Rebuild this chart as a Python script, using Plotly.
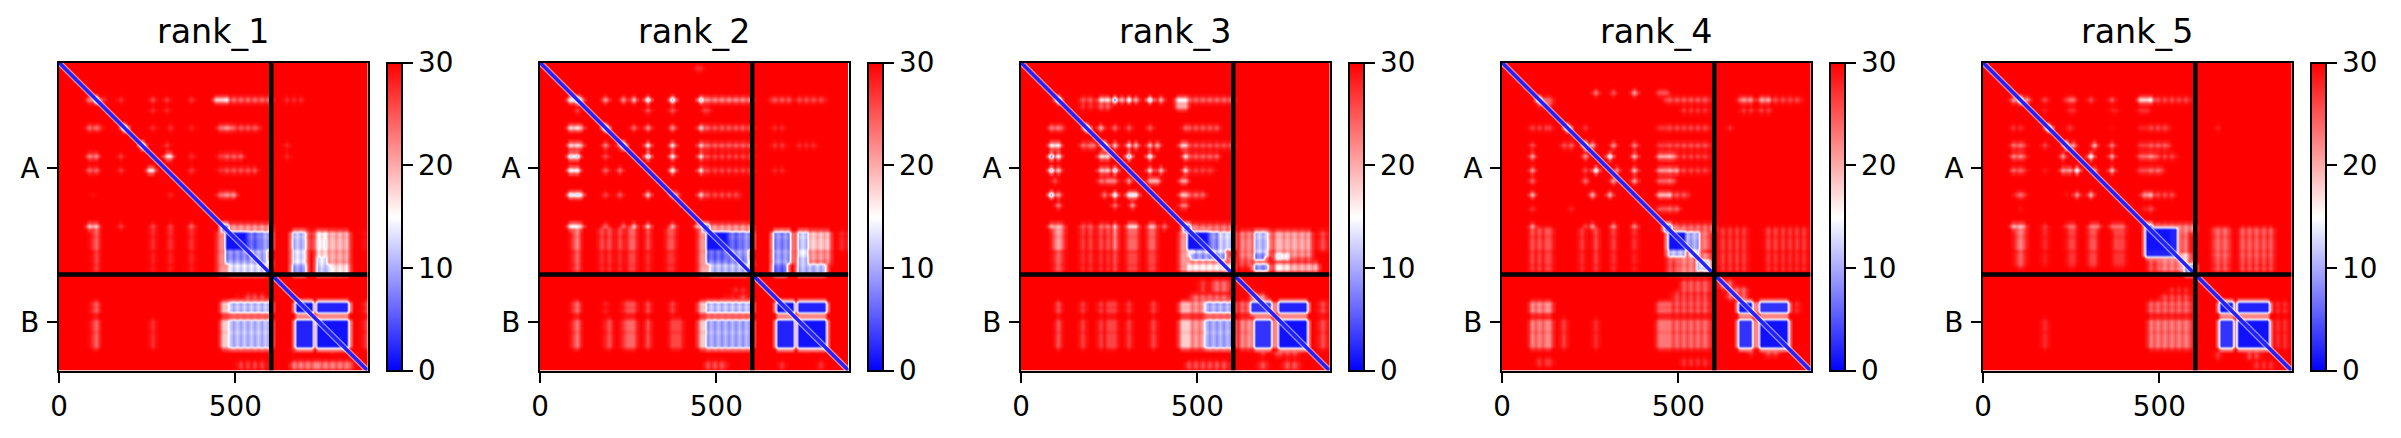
import plotly.graph_objects as go

TITLES = ["rank_1", "rank_2", "rank_3", "rank_4", "rank_5"]
CHAIN_LABELS = ["A", "B"]
CHAIN_EDGES = [0, 602, 875]
X_TICKS = [0, 500]
CBAR_TICKS = [0, 10, 20, 30]
CELL = 10

# each entry: row start, row end, [(column start, column end, predicted error)]
BULGES = [(100, 100, [(100, 100, 1)]), (180, 190, [(180, 190, 1)]), (235, 235, [(235, 235, 1)]), (465, 478, [(465, 478, 2)])]

# residues where the error rises a little inside a patch (the streaks of the picture)
STREAK_COLS = [90, 110, 180, 230, 480, 500, 520, 540, 560, 580, 630, 650, 670, 690, 710, 740, 760, 780, 800, 820, 840, 860]
STREAK_ROWS = [490, 530, 570, 650, 690, 760]
# how much fainter the spots inside chain A are in each rank
SPOT_LIFT = [3, 0, 0, 2, 3]

RANK_1 = [
 (100,100,[(85,110,19),(110,130,24),(170,185,24),(263,263,22),(304,304,23),(372,372,24),(445,480,14),(480,600,23),(640,690,27)]),
 (130,130,[(263,263,24),(304,304,24)]),
 (181,181,[(85,115,20),(263,263,24),(310,320,24),(372,372,25),(455,490,20),(490,570,24)]),
 (235,235,[(300,310,23),(645,660,27)]),
 (265,265,[(85,105,18),(170,170,23),(300,315,12),(372,372,24),(455,520,23),(645,660,27)]),
 (306,306,[(85,110,20),(170,175,23),(255,265,12),(372,372,23),(455,560,24)]),
 (372,372,[(95,95,23),(310,310,25),(450,500,20)]),
 (462,462,[(85,110,14),(170,170,23),(263,263,22),(310,310,23),(372,372,20)]),
 (470,530,[(90,110,24),(263,263,27),(310,310,27),(372,372,27)]),
 (530,590,[(90,110,26),(263,263,28),(310,310,28),(372,372,28)]),
 (465,478,[(470,600,20)]),
 (480,530,[(475,530,1),(530,565,4),(565,595,7),(665,700,9),(700,730,24),(730,760,14),(760,815,18),(860,870,26)]),
 (530,555,[(470,540,6),(540,590,8),(665,700,11),(730,760,16),(760,815,19)]),
 (555,565,[(475,590,8),(665,700,12),(735,760,12),(760,815,20)]),
 (565,578,[(460,480,22),(480,600,19),(665,700,24),(730,815,25)]),
 (578,592,[(465,480,21),(480,590,11),(665,700,7),(735,770,10),(770,815,15)]),
 (480,592,[(455,472,22)]),
 (680,708,[(90,105,24),(465,480,18),(480,595,9),(670,716,1),(732,812,2),(860,872,25)]),
 (660,680,[(500,510,26),(530,560,25),(570,580,25)]),
 (736,802,[(90,105,24),(263,263,27),(465,480,18),(480,595,9),(670,716,2),(732,812,1),(860,872,25)]),
 (720,730,[(735,760,27)]),(810,820,[(665,680,27),(760,790,26)]),
 (855,868,[(500,590,26),(665,830,22)]),
]

RANK_2 = [
 (10,10,[(445,455,27)]),
 (100,100,[(85,120,13),(185,185,17),(230,230,18),(262,262,17),(308,308,9),(372,372,9),(459,459,8),(465,596,21),(658,710,24),(738,805,25)]),
 (130,130,[(100,110,26),(305,305,24),(372,372,24),(465,480,26)]),
 (181,181,[(85,120,16),(262,262,23),(308,308,20),(372,372,21),(459,459,16),(465,596,24),(663,690,27)]),
 (235,235,[(85,120,15),(180,180,18),(222,222,20),(308,308,12),(372,372,14),(459,459,15),(465,596,23),(658,700,26),(738,790,27)]),
 (265,265,[(85,110,10),(180,180,22),(308,308,7),(372,372,13),(459,459,13),(465,596,25)]),
 (306,306,[(85,110,12),(180,180,20),(222,222,22),(372,372,12),(459,459,13),(465,596,25),(663,690,27)]),
 (372,372,[(85,115,12),(180,180,23),(222,222,24),(308,308,16),(372,385,22),(459,459,16),(465,570,25)]),
 (462,462,[(85,115,14),(99,99,9),(185,185,20),(230,230,20),(262,262,16),(308,308,15),(372,372,18),(440,462,18)]),
 (470,530,[(90,110,22),(175,195,25),(225,235,25),(255,265,24),(305,305,25),(365,372,25)]),
 (530,590,[(90,110,24),(175,195,27),(225,235,27),(255,265,26),(305,305,27),(365,372,27)]),
 (465,478,[(470,600,20)]),
 (480,530,[(475,530,1),(530,565,4),(565,595,6),(663,705,6),(738,753,10),(753,815,17),(852,871,27)]),
 (530,555,[(470,530,4),(530,590,7),(663,705,7),(738,753,12),(753,815,20)]),
 (555,565,[(470,590,6),(663,705,8),(738,753,10),(753,815,22)]),
 (565,578,[(460,480,24),(480,595,20),(663,700,21),(738,815,25)]),
 (578,592,[(465,480,20),(480,590,9),(663,700,4),(739,810,9)]),
 (480,592,[(450,472,21)]),
 (640,650,[(540,575,27)]),
 (660,680,[(520,530,26),(540,550,25),(565,585,25)]),
 (680,708,[(90,110,23),(185,185,25),(230,265,25),(308,308,25),(372,372,26),(450,478,18),(478,595,9),(677,720,1),(734,810,2)]),
 (736,802,[(90,110,23),(185,195,25),(230,265,24),(308,308,25),(372,400,26),(450,478,18),(478,595,8),(677,720,2),(734,810,1)]),
 (810,820,[(750,770,27)]),
 (850,862,[(470,530,25),(680,700,27),(790,810,27)]),
]

RANK_3 = [
 (100,100,[(170,196,24),(220,248,15),(262,262,4),(281,281,18),(307,307,10),(324,324,18),(369,369,8),(390,390,18),(442,470,15),(470,600,23)]),
 (115,125,[(170,196,27),(220,248,24),(440,470,20)]),
 (181,181,[(87,115,22),(225,225,18),(262,262,23),(307,307,24),(366,366,24),(461,555,24)]),
 (233,233,[(87,110,13),(172,205,22),(262,262,15),(307,307,13),(320,320,16),(369,369,16),(385,385,18),(452,470,16),(470,600,24)]),
 (265,265,[(87,87,5),(101,101,12),(225,243,14),(307,307,5),(369,369,8),(461,461,14),(470,560,23)]),
 (308,308,[(89,89,8),(101,101,16),(225,243,16),(262,262,7),(369,369,13),(390,390,16),(461,461,15),(470,550,25)]),
 (335,335,[(90,100,22),(225,262,22),(307,307,20),(369,390,19),(455,470,20)]),
 (371,371,[(89,89,8),(101,101,20),(234,234,20),(262,262,10),(307,324,13),(455,470,18),(470,520,23)]),
 (400,400,[(100,100,22),(319,319,20),(262,262,22),(455,470,22)]),
 (462,462,[(85,115,18),(177,196,24),(225,243,22),(262,262,16),(307,324,16),(366,380,18),(400,400,23)]),
 (470,530,[(90,115,20),(175,195,26),(225,245,25),(262,262,21),(305,325,24),(365,380,24)]),
 (530,590,[(90,115,24),(175,195,27),(225,245,27),(262,262,25),(305,325,26),(365,380,26)]),
 (465,478,[(470,600,22)]),
 (480,530,[(475,530,1),(530,560,6),(560,595,10),(627,655,21),(660,693,9),(693,722,22),(726,811,19),(840,868,25)]),
 (530,542,[(470,490,15),(490,575,11),(627,655,21),(660,693,10),(726,811,20)]),
 (542,552,[(480,575,7),(627,655,23),(660,690,6),(726,760,14),(760,811,24)]),
 (552,575,[(470,600,22),(627,700,24),(726,811,26)]),
 (575,590,[(470,600,14),(660,700,6),(726,760,15),(760,840,18)]),
 (480,590,[(450,472,21)]),
 (620,650,[(505,530,26),(540,585,23)]),
 (660,680,[(480,590,23),(650,690,20)]),
 (680,708,[(100,110,25),(175,175,26),(225,265,26),(307,307,26),(372,372,26),(450,478,19),(478,520,20),(520,595,8),(627,655,23),(655,707,3),(731,806,2),(840,868,25)]),
 (736,802,[(100,110,25),(175,175,26),(225,265,26),(307,307,26),(372,372,26),(450,478,18),(478,520,20),(525,595,8),(627,655,21),(660,707,3),(731,806,1),(840,868,25)]),
 (820,830,[(670,690,26),(720,790,25)]),
 (850,865,[(470,590,25),(670,700,25),(745,783,25)]),
]

RANK_4 = [
 (80,80,[(263,263,20),(310,310,23),(372,372,18),(448,466,23)]),
 (100,120,[(100,135,22)]),
 (105,105,[(466,590,24),(675,703,20),(737,760,19),(770,845,25)]),
 (130,130,[(510,590,26),(675,703,26),(737,760,26)]),
 (180,180,[(88,135,24),(230,230,22),(448,590,25),(630,645,27)]),
 (232,232,[(88,88,23),(173,200,22),(258,258,16),(315,315,18),(372,372,19),(448,590,24)]),
 (265,265,[(88,88,17),(230,230,15),(306,306,6),(372,372,15),(448,486,17),(486,590,25)]),
 (306,306,[(88,88,18),(230,230,20),(261,261,6),(320,320,18),(372,372,15),(448,500,18),(500,590,25)]),
 (330,330,[(88,88,22),(230,230,18),(315,315,18),(372,372,18),(448,490,22)]),
 (372,372,[(88,88,17),(258,258,17),(306,306,16),(448,476,17),(476,530,24)]),
 (410,410,[(88,88,25),(190,190,26),(448,500,23)]),
 (460,460,[(88,88,18),(230,230,21),(258,258,18),(315,315,18),(372,372,19)]),
 (470,530,[(85,135,25),(225,235,26),(260,260,25),(310,320,26),(372,372,27),(628,694,26),(741,865,26)]),
 (530,590,[(85,135,26),(225,235,27),(260,260,26),(310,320,27),(372,372,28),(628,694,26),(741,865,27)]),
 (466,480,[(470,600,23)]),
 (485,530,[(470,520,1),(520,552,8),(557,590,22)]),
 (535,546,[(470,520,9),(530,555,12)]),
 (546,600,[(470,500,24),(500,590,21)]),
 (565,590,[(555,590,10)]),
 (627,646,[(514,590,24)]),
 (620,640,[(620,650,23)]),(640,665,[(640,685,23)]),
 (655,674,[(480,590,25)]),
 (680,702,[(88,135,21),(448,590,24),(675,708,1),(732,808,3),(820,850,27)]),
 (736,802,[(88,135,22),(173,173,26),(260,260,27),(448,590,23),(675,708,3),(730,808,1)]),
 (840,860,[(100,135,27),(500,590,27)]),
 (815,830,[(700,720,27),(745,775,25)]),
]

RANK_5 = [
 (100,100,[(80,128,18),(175,175,22),(232,260,20),(308,308,22),(369,369,21),(445,473,14),(473,590,25)]),
 (130,130,[(175,175,25),(232,260,24),(369,380,25),(445,470,24)]),
 (181,181,[(80,118,24),(232,246,23),(369,369,26),(445,530,25),(660,670,28)]),
 (235,235,[(80,118,19),(175,175,22),(255,255,16),(312,312,15),(369,369,18),(445,530,23)]),
 (265,265,[(80,118,18),(227,227,16),(305,305,6),(369,369,15),(445,490,20),(490,550,25)]),
 (306,306,[(85,118,20),(175,175,25),(227,246,16),(262,262,6),(317,317,18),(369,369,13),(445,510,22)]),
 (372,372,[(90,118,20),(232,232,23),(262,262,17),(308,308,15),(455,475,18),(475,540,25)]),
 (410,410,[(95,118,26),(455,480,25)]),
 (462,462,[(85,118,15),(175,175,23),(232,260,20),(308,325,19),(369,400,20)]),
 (470,530,[(90,115,22),(175,175,27),(235,260,26),(305,320,25),(372,400,26)]),
 (530,575,[(90,115,24),(175,175,28),(235,260,27),(305,320,26),(372,400,27)]),
 (466,478,[(470,600,21)]),
 (475,546,[(469,549,2),(566,580,22),(658,700,23),(734,814,24)]),
 (475,530,[(469,530,1)]),
 (546,590,[(470,500,24),(500,590,21),(566,580,16),(658,700,24),(734,814,25)]),
 (575,592,[(570,595,7)]),
 (640,660,[(530,590,27)]),
 (660,674,[(500,590,25)]),
 (680,702,[(473,587,23),(677,710,1),(729,805,2),(825,860,27)]),
 (736,802,[(90,90,27),(175,175,27),(473,587,22),(677,710,3),(729,805,1),(830,860,27)]),
 (820,832,[(665,680,27),(745,785,26)]),
 (850,870,[(760,830,27)]),
]
PANELS = [RANK_1, RANK_2, RANK_3, RANK_4, RANK_5]


def paint(z, blocks, n):
    for r0, r1, spans in blocks:
        for r in range(r0 // CELL, max(r0 // CELL + 1, (r1 - 1) // CELL + 1)):
            for c0, c1, v in spans:
                for c in range(c0 // CELL, max(c0 // CELL + 1, (c1 - 1) // CELL + 1)):
                    if r < n and c < n:
                        z[r][c] = min(z[r][c], v)


def grid(blocks, lift):
    n = (CHAIN_EDGES[-1] + CELL - 1) // CELL
    z = [[30.0] * n for _ in range(n)]
    paint(z, blocks, n)
    cols = {c // CELL for c in STREAK_COLS}
    rows = {r // CELL for r in STREAK_ROWS}
    for r in range(n):
        for c in range(n):
            if 3 < z[r][c] < 30:
                z[r][c] = min(30, z[r][c] + (3 if c in cols else 0) + (1 if r in rows else 0))
                if r < 47 and c < 47:
                    z[r][c] = min(30, z[r][c] + lift)
    paint(z, BULGES, n)
    # soft rim around every patch, as the smoothed image has
    soft = [row[:] for row in z]
    for r in range(n):
        for c in range(n):
            if z[r][c] < 30:
                for a, b in ((r - 1, c), (r + 1, c), (r, c - 1), (r, c + 1)):
                    if 0 <= a < n and 0 <= b < n:
                        soft[a][b] = min(soft[a][b], z[r][c] + (30 - z[r][c]) * 0.72)
    return soft


W, H = 2401, 438
TOP, BOTTOM = 62.5, 370.5
fig = go.Figure()
tick_font = dict(family="DejaVu Sans", size=27.8, color="black")
for k, (title, blocks) in enumerate(zip(TITLES, PANELS)):
    left = 59 + 481 * k
    right = left + 308.5
    s = "" if k == 0 else str(k + 1)
    fig.add_trace(go.Heatmap(
        z=grid(blocks, SPOT_LIFT[k]), x0=CELL / 2, dx=CELL, y0=CELL / 2, dy=CELL, xaxis="x" + s, yaxis="y" + s,
        zmin=0, zmax=30, zsmooth="best", hoverinfo="skip",
        colorscale=[[0, "#0000ff"], [0.5, "#ffffff"], [1, "#ff0000"]],
        colorbar=dict(x=(left + 328) / W, xanchor="left", y=(H - BOTTOM) / H, yanchor="bottom",
                      len=(BOTTOM - TOP) / H, lenmode="fraction", thickness=15, thicknessmode="pixels",
                      xpad=0, ypad=0, outlinecolor="black", outlinewidth=2, tickvals=CBAR_TICKS,
                      ticks="outside", ticklen=10, tickwidth=2, tickcolor="black", tickfont=tick_font),
    ))
    for color, width in (("rgba(255,255,255,0.55)", 6), ("#2222ff", 3.5)):
        fig.add_trace(go.Scatter(x=CHAIN_EDGES, y=CHAIN_EDGES, mode="lines", xaxis="x" + s, yaxis="y" + s,
                                 line=dict(color=color, width=width), hoverinfo="skip", showlegend=False))
    axis = dict(showline=True, mirror=True, linecolor="black", linewidth=2, ticks="outside", ticklen=10,
                tickwidth=2, tickcolor="black", showgrid=False, zeroline=False, tickfont=tick_font, layer="above traces")
    fig.update_layout(**{
        "xaxis" + s: dict(axis, domain=[left / W, right / W], range=[0, CHAIN_EDGES[-1]], tickvals=X_TICKS,
                          anchor="y" + s),
        "yaxis" + s: dict(axis, domain=[(H - BOTTOM) / H, (H - TOP) / H], range=[CHAIN_EDGES[-1], 0], anchor="x" + s,
                          tickvals=[(CHAIN_EDGES[i] + CHAIN_EDGES[i + 1]) / 2 for i in range(2)],
                          ticktext=CHAIN_LABELS, ticklabelstandoff=2),
    })
    edge = CHAIN_EDGES[1]
    fig.add_shape(type="line", xref="x" + s, yref="y" + s, x0=edge, x1=edge, y0=0, y1=CHAIN_EDGES[-1],
                  line=dict(color="black", width=4.5))
    fig.add_shape(type="line", xref="x" + s, yref="y" + s, x0=0, x1=CHAIN_EDGES[-1], y0=edge, y1=edge,
                  line=dict(color="black", width=4.5))
    fig.add_annotation(text=title, xref="paper", yref="paper", x=(left + right) / 2 / W, y=(H - 53) / H,
                       xanchor="center", yanchor="bottom", showarrow=False,
                       font=dict(family="DejaVu Sans", size=33.3, color="black"))

fig.update_layout(width=W, height=H, autosize=False, margin=dict(l=0, r=0, t=0, b=0, autoexpand=False),
                  paper_bgcolor="white", plot_bgcolor="white", showlegend=False)
fig.write_html("out.html", config={"displayModeBar": False},
               post_script="document.body.style.margin='0';document.body.style.overflow='hidden';")
